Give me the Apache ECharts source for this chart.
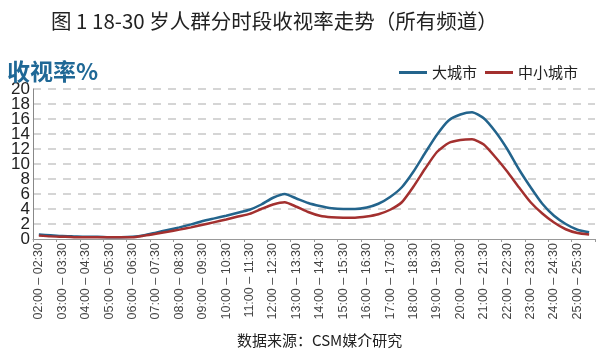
<!DOCTYPE html>
<html>
<head>
<meta charset="utf-8">
<script src="https://cdn.jsdelivr.net/npm/echarts@6/dist/echarts.min.js"></script>
<style>
  html, body { margin: 0; padding: 0; background: #fff; }
  #main { width: 597px; height: 353px; }
</style>
</head>
<body>
<div id="main"></div>
<script>
// half-hour slots 02:00 - 26:00
var slots = [];
for (var h = 2; h < 26; h++) {
  var a = (h < 10 ? '0' : '') + h;
  var b = (h + 1 < 10 ? '0' : '') + (h + 1);
  slots.push(a + ':00 – ' + a + ':30');
  slots.push(a + ':30 – ' + b + ':00');
}

var bigCity = [0.6, 0.5, 0.4, 0.35, 0.3, 0.3, 0.25, 0.25, 0.3, 0.5, 0.85, 1.2,
  1.55, 1.95, 2.4, 2.75, 3.1, 3.5, 3.9, 4.6, 5.5, 6.0, 5.4, 4.8,
  4.4, 4.1, 4.0, 4.0, 4.2, 4.7, 5.6, 6.9, 9.0, 11.5, 13.9, 15.8,
  16.6, 16.9, 16.1, 14.3, 12.0, 9.3, 6.9, 4.7, 3.1, 2.0, 1.24, 0.9];
var smallCity = [0.45, 0.35, 0.3, 0.25, 0.25, 0.25, 0.25, 0.25, 0.25, 0.45, 0.7, 0.97,
  1.25, 1.55, 1.9, 2.25, 2.6, 3.0, 3.35, 4.0, 4.6, 4.9, 4.3, 3.6,
  3.1, 2.9, 2.85, 2.85, 3.0, 3.3, 3.9, 4.9, 7.0, 9.4, 11.6, 12.8,
  13.2, 13.3, 12.6, 10.9, 9.0, 6.9, 4.9, 3.4, 2.2, 1.3, 0.8, 0.6];

var labelFont = { fontSize: 17, fontFamily: 'Liberation Sans', color: '#222', margin: 3 };

var chart = echarts.init(document.getElementById('main'));
chart.setOption({
  animation: false,
  backgroundColor: '#fff',
  color: ['#23648c', '#a3302f'],
  title: [{
    text: '图 1 18-30 岁人群分时段收视率走势（所有频道）',
    left: 46, top: 6,
    textStyle: { fontFamily: 'Noto Sans CJK SC', fontSize: 20.5, fontWeight: 'normal', color: '#222' }
  }, {
    text: '收视率%',
    left: 2, top: 55,
    textStyle: { fontFamily: 'Noto Sans CJK SC', fontSize: 23, fontWeight: 'bold', color: '#1f6896' }
  }, {
    text: '数据来源：CSM媒介研究',
    left: 232, top: 328,
    textStyle: { fontFamily: 'Noto Sans CJK SC', fontSize: 15, fontWeight: 'normal', color: '#222' }
  }],
  legend: {
    right: 14, top: 60,
    itemWidth: 28, itemHeight: 3, itemGap: 8,
    icon: 'rect',
    textStyle: { fontFamily: 'Noto Sans CJK SC', fontSize: 15, color: '#222' },
    data: ['大城市', '中小城市']
  },
  // grid 1 is shifted by one step (15px) so its ticks land on the odd gridlines
  grid: [
    { left: 33, right: 2, top: 89, bottom: 114, containLabel: false },
    { left: 33, right: 2, top: 74, bottom: 99, containLabel: false }
  ],
  xAxis: [{
    type: 'category',
    data: slots,
    boundaryGap: true,
    axisLine: { lineStyle: { color: '#999' } },
    axisTick: { show: true, interval: 1, length: 3, lineStyle: { color: '#999' } },
    axisLabel: {
      interval: 1, rotate: 90, fontSize: 12.5, margin: 4,
      fontFamily: 'Liberation Sans', color: '#444'
    }
  }, {
    gridIndex: 1, type: 'category', data: slots, show: false
  }],
  yAxis: [{
    type: 'value', min: 0, max: 20, interval: 2,
    axisLine: { show: true, lineStyle: { color: '#888' } },
    axisTick: { show: false },
    axisLabel: Object.assign({
      showMinLabel: true, showMaxLabel: true,
      formatter: function (v) { return v % 4 === 0 ? String(v) : ''; }
    }, labelFont),
    splitLine: {
      showMinLine: false, showMaxLine: true,
      lineStyle: { color: '#c8c8c8', type: [8, 7], width: 1.5 }
    }
  }, {
    gridIndex: 1, type: 'value', min: -2, max: 22, interval: 4,
    axisLine: { show: false }, axisTick: { show: false }, splitLine: { show: false },
    axisLabel: Object.assign({ showMinLabel: false, showMaxLabel: false }, labelFont)
  }],
  series: [{
    name: '大城市', type: 'line', data: bigCity,
    smooth: 0.2, symbol: 'none',
    lineStyle: { width: 2.5 }
  }, {
    name: '中小城市', type: 'line', data: smallCity,
    smooth: 0.2, symbol: 'none',
    lineStyle: { width: 2.5 }
  }]
});
</script>
</body>
</html>
